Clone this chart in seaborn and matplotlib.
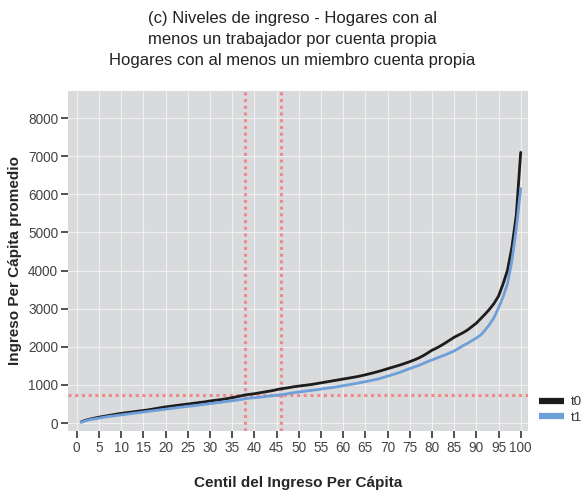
import numpy as np
import pandas as pd
import matplotlib
matplotlib.use("Agg")
import matplotlib.pyplot as plt
import seaborn as sns

# percentiles 1..100
centiles = list(range(1, 101))

t0 = [30, 75, 105, 130, 155, 175, 195, 215, 235, 255,
      270, 285, 300, 315, 330, 345, 365, 385, 405, 425,
      440, 455, 470, 485, 500, 515, 530, 545, 560, 580,
      595, 610, 625, 645, 665, 690, 715, 740, 755, 770,
      790, 810, 830, 850, 875, 900, 915, 935, 955, 970,
      985, 1000, 1015, 1035, 1055, 1075, 1095, 1115, 1135, 1155,
      1175, 1195, 1215, 1240, 1265, 1295, 1325, 1355, 1390, 1425,
      1460, 1495, 1530, 1570, 1610, 1655, 1705, 1765, 1835, 1910,
      1965, 2030, 2100, 2175, 2250, 2310, 2370, 2440, 2530, 2620,
      2740, 2860, 2990, 3140, 3330, 3640, 4000, 4600, 5450, 7100]

t1 = [20, 60, 90, 110, 130, 150, 170, 185, 200, 215,
      230, 245, 260, 275, 290, 305, 320, 335, 350, 365,
      380, 395, 410, 425, 440, 450, 465, 480, 495, 510,
      525, 540, 555, 570, 585, 600, 620, 640, 655, 665,
      675, 690, 705, 715, 730, 745, 760, 780, 800, 815,
      830, 845, 860, 875, 890, 910, 925, 940, 960, 980,
      1000, 1020, 1040, 1065, 1085, 1110, 1135, 1160, 1195, 1230,
      1265, 1300, 1340, 1385, 1430, 1470, 1510, 1560, 1610, 1655,
      1700, 1745, 1790, 1840, 1890, 1960, 2030, 2090, 2160, 2230,
      2310, 2440, 2590, 2770, 3020, 3300, 3650, 4250, 5100, 6150]

series_names = ["t0", "t1"]
colors = {"t0": "#1c1c1c", "t1": "#6f9fd9"}

ref_y = 740
ref_x = [38, 46]

df = pd.DataFrame({
    "centil": centiles * 2,
    "ingreso": t0 + t1,
    "serie": ["t0"] * len(t0) + ["t1"] * len(t1),
})

sns.set_theme(style="darkgrid")
plt.rcParams["font.family"] = ["Liberation Sans", "DejaVu Sans"]

fig = plt.figure(figsize=(5.85, 4.91), dpi=100)
ax = fig.add_axes([0.116, 0.122, 0.787, 0.693])
ax.set_facecolor("#d9dadb")

sns.lineplot(data=df, x="centil", y="ingreso", hue="serie", hue_order=series_names,
             palette=colors, linewidth=2.0, ax=ax, legend=False)

ax.axhline(ref_y, color="#ee8a8a", linestyle=(0, (1, 1.2)), linewidth=2.2, zorder=1)
for xv in ref_x:
    ax.axvline(xv, color="#ee8a8a", linestyle=(0, (1, 1.2)), linewidth=2.2, zorder=1)

ax.set_xlim(-2, 101.7)
ax.set_ylim(-210, 8714)
ax.set_xticks(range(0, 101, 5))
ax.set_yticks(range(0, 8001, 1000))
ax.grid(True, color="#f0f0f0", linewidth=0.8)
ax.set_axisbelow(True)
for s in ax.spines.values():
    s.set_visible(False)
ax.tick_params(axis="both", which="major", length=5, width=1.1, color="#222222",
               labelsize=9.8, labelcolor="#444444", pad=2, bottom=True, left=True)

ax.set_xlabel("Centil del Ingreso Per Cápita", fontsize=11, fontweight="bold", labelpad=15)
ax.set_ylabel("Ingreso Per Cápita promedio", fontsize=11, fontweight="bold")
ax.yaxis.set_label_coords(-0.1, 0.5)

fig.text(0.5, 0.977, "(c) Niveles de ingreso - Hogares con al\n"
         "menos un trabajador por cuenta propia\n"
         "Hogares con al menos un miembro cuenta propia",
         ha="center", va="top", fontsize=12, color="#222222", linespacing=1.5)

handles = [plt.Line2D([], [], color=colors[n], linewidth=4.5, solid_capstyle="butt")
           for n in series_names]
fig.legend(handles, series_names, loc="center left", bbox_to_anchor=(0.922, 0.165),
           frameon=False, fontsize=9.5, handlelength=1.9, labelspacing=0.25,
           handletextpad=0.5, borderpad=0, borderaxespad=0, labelcolor="#333333")

fig.savefig("out.png", dpi=100)
